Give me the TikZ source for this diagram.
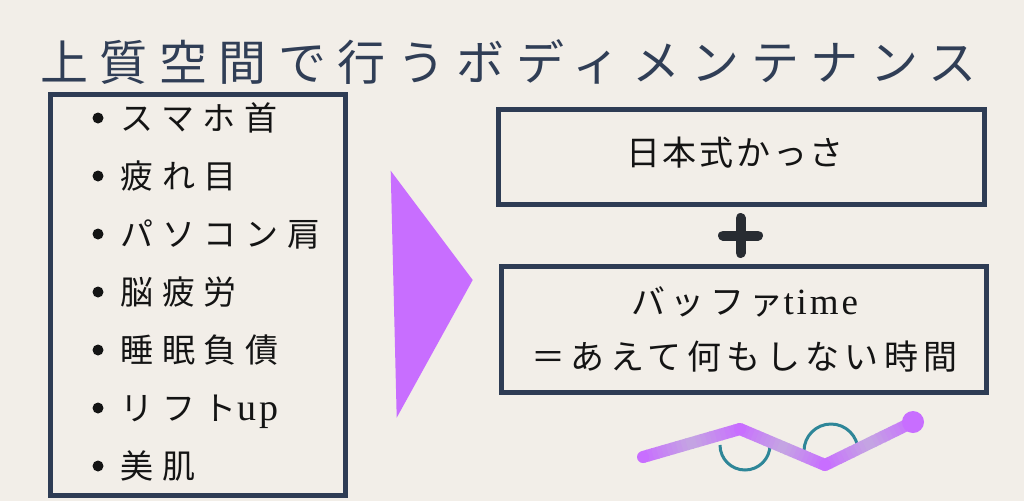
\documentclass[tikz,border=0pt]{standalone}
\usepackage{fontspec}
\usetikzlibrary{calc}
\setmainfont{Noto Sans CJK JP}
\newfontfamily\titlefont[LetterSpace=24]{Noto Sans CJK JP}
\newfontfamily\listfont[LetterSpace=27]{Noto Sans CJK JP}
\newfontfamily\boxfontA[LetterSpace=8]{Noto Sans CJK JP}
\newfontfamily\boxfontB[LetterSpace=16]{Noto Sans CJK JP}
\newfontfamily\latinserif[LetterSpace=8]{Liberation Serif}
\definecolor{bgc}{RGB}{242,238,232}
\definecolor{navy}{RGB}{46,60,84}
\definecolor{titlec}{RGB}{48,62,86}
\definecolor{txt}{RGB}{20,20,20}
\definecolor{plusc}{RGB}{40,44,50}
\definecolor{vio}{RGB}{200,110,255}
\definecolor{lav}{RGB}{196,166,226}
\definecolor{tealc}{RGB}{46,134,152}
\tikzset{
  framebox/.style={draw=navy, line width=5pt, inner sep=0pt},
  listitem/.style={anchor=base west, inner sep=0pt, text=txt, font={\fontsize{33pt}{38pt}\listfont}},
  boxtextA/.style={anchor=base west, inner sep=0pt, text=txt, font={\fontsize{34pt}{38pt}\boxfontA}},
  boxtextB/.style={anchor=base west, inner sep=0pt, text=txt, font={\fontsize{34pt}{38pt}\boxfontB}},
  bulletdot/.style={fill=txt},
}
\begin{document}
\begin{tikzpicture}[x=1pt,y=-1pt]
\fill[bgc] (0,0) rectangle (1024,501);
\useasboundingbox (0,0) rectangle (1024,501);

% title
\node[anchor=base west, inner sep=0pt, text=titlec, font={\fontsize{48pt}{54pt}\titlefont}] (title) at (40,80) {上質空間で行うボディメンテナンス};

% left list box
\node[framebox, minimum width=295pt, minimum height=401pt] (listbox) at (198,295) {};
\foreach \n/\yy/\txt in {1/118/スマホ首, 2/176/疲れ目, 3/234/パソコン肩, 4/292/脳疲労, 5/350/睡眠負債, 7/466/美肌}{
  \fill[bulletdot] (98,\yy) circle[radius=5.5pt];
  \node[listitem] (item\n) at (120,\yy+12.5) {\txt};
}
\fill[bulletdot] (98,408) circle[radius=5.5pt];
\node[listitem] (item6) at (120,408+12.5) {リフト{\fontsize{38pt}{42pt}\latinserif up}};

% triangle
\coordinate (ta) at (390.7,170.7);
\coordinate (tb) at (472.7,280);
\coordinate (tc) at (396.7,417.7);
\fill[vio] (ta) -- (tb) -- (tc) -- cycle;

% right boxes
\node[framebox, minimum width=486pt, minimum height=95pt] (topbox) at (741.5,157) {};
\node[framebox, minimum width=485pt, minimum height=126pt] (botbox) at (744,329.5) {};
\node[boxtextA] (t1) at (626,165.9) {日本式かっさ};
\node[boxtextB] (t2) at (631,314.9) {バッファ{\fontsize{37pt}{40pt}\latinserif time}};
\node[boxtextB] (t3) at (531,369.9) {＝あえて何もしない時間};

% plus
\coordinate (plus) at (740.5,235.5);
\draw[plusc, line width=10pt, line cap=round] (plus) ++(-17.5,0) -- ++(35,0);
\draw[plusc, line width=10pt, line cap=round] (plus) ++(0,-17.5) -- ++(0,35);

% decoration
\coordinate (A) at (643,457);
\coordinate (B) at (740,429);
\coordinate (C) at (825,465);
\coordinate (D) at (913,422);
\draw[tealc, line width=3pt] (720,445) arc[start angle=180, end angle=360, radius=25pt];
\draw[tealc, line width=3pt] (804,451) arc[start angle=180, end angle=0, radius=27pt];
\foreach \p/\q in {A/B,B/C,C/D}{
  \foreach \i in {0,...,19}{
    \pgfmathsetmacro\ta{\i/20}
    \pgfmathsetmacro\tb{(\i+1.15)/20}
    \pgfmathsetmacro\m{abs(2*(\i+0.5)/20-1)*100}
    \draw[line width=12pt, color=vio!\m!lav] ($(\p)!\ta!(\q)$) -- ($(\p)!\tb!(\q)$);
  }
}
\fill[vio] (A) circle[radius=6pt];
\fill[vio] (B) circle[radius=6pt];
\fill[vio] (C) circle[radius=6pt];
\fill[vio] (D) circle[radius=11pt];
\end{tikzpicture}
\end{document}
